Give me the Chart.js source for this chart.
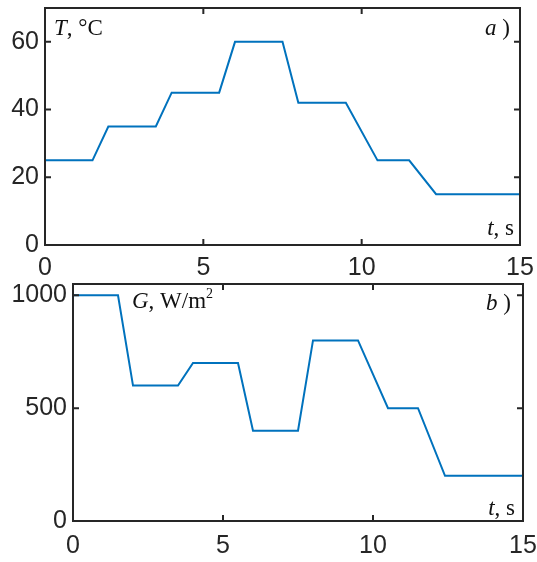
<!DOCTYPE html>
<html>
<head>
<meta charset="UTF-8">
<title>T and G vs t</title>
<script src="https://cdn.jsdelivr.net/npm/chart.js@4.4.1/dist/chart.umd.min.js"></script>
<style>
  body { margin: 0; background: #fff; }
  #wrap { position: relative; width: 537px; height: 562px; }
  .box { position: absolute; left: 0; width: 537px; }
</style>
</head>
<body>
<div id="wrap">
  <div class="box" style="top:0;height:280px"><canvas id="chartT"></canvas></div>
  <div class="box" style="top:275px;height:287px"><canvas id="chartG"></canvas></div>
</div>
<script>
// a) temperature, °C
const timeT = [0, 1.5, 2, 3.5, 4, 5.5, 6, 7.5, 8, 9.5, 10.5, 11.5, 12.35, 15];
const tempT = [25, 25, 35, 35, 45, 45, 60, 60, 42, 42, 25, 25, 15, 15];
// b) irradiance, W/m2
const timeG = [0, 1.5, 2, 3.5, 4, 5.5, 6, 7.5, 8, 9.5, 10.5, 11.5, 12.4, 15];
const irrG = [1000, 1000, 600, 600, 700, 700, 400, 400, 800, 800, 500, 500, 200, 200];

const xTicks = [0, 5, 10, 15];
const yTicksT = [0, 20, 40, 60];
const yTicksG = [0, 500, 1000];

const axisColor = '#262626';
const lineColor = '#0072BD';

function toPoints(xs, ys) {
  return xs.map((x, i) => ({ x: x, y: ys[i] }));
}

// frame + inward ticks on all four sides, plus text labels
function framePlugin(labels) {
  return {
    id: 'frame',
    afterDraw(chart) {
      const ctx = chart.ctx;
      const a = chart.chartArea;
      const xs = chart.scales.x, ys = chart.scales.y;
      const len = 6;
      ctx.save();
      ctx.strokeStyle = axisColor;
      ctx.lineWidth = 2;
      ctx.beginPath();
      xs.ticks.forEach(t => {
        const px = xs.getPixelForValue(t.value);
        ctx.moveTo(px, a.bottom); ctx.lineTo(px, a.bottom - len);
        ctx.moveTo(px, a.top); ctx.lineTo(px, a.top + len);
      });
      ys.ticks.forEach(t => {
        const py = ys.getPixelForValue(t.value);
        ctx.moveTo(a.left, py); ctx.lineTo(a.left + len, py);
        ctx.moveTo(a.right, py); ctx.lineTo(a.right - len, py);
      });
      ctx.stroke();
      ctx.strokeRect(a.left, a.top, a.right - a.left, a.bottom - a.top);

      ctx.fillStyle = '#111';
      ctx.textBaseline = 'alphabetic';
      labels.forEach(l => {
        let x = l.x < 0 ? a.right + l.x : a.left + l.x;
        const y = l.y < 0 ? a.bottom + l.y : a.top + l.y;
        if (l.align === 'right') {
          let w = 0;
          l.parts.forEach(p => { ctx.font = p.font; w += ctx.measureText(p.text).width; });
          x -= w;
        }
        l.parts.forEach(p => {
          ctx.font = p.font;
          ctx.fillText(p.text, x, y + (p.dy || 0));
          x += ctx.measureText(p.text).width;
        });
      });
      ctx.restore();
    }
  };
}

const serif = '23px "Liberation Serif", "Times New Roman", serif';
const serifIt = 'italic 23px "Liberation Serif", "Times New Roman", serif';
const serifSup = '14px "Liberation Serif", "Times New Roman", serif';
const tickFont = { family: '"Liberation Sans", Arial, sans-serif', size: 25 };

function makeChart(id, pts, yMax, yTicks, pad, xHeight, xPad, labels) {
  return new Chart(document.getElementById(id), {
    type: 'line',
    data: {
      datasets: [{
        data: pts,
        borderColor: lineColor,
        borderWidth: 2,
        pointRadius: 0,
        tension: 0,
        fill: false
      }]
    },
    options: {
      responsive: true,
      maintainAspectRatio: false,
      animation: false,
      layout: { padding: pad },
      plugins: { legend: { display: false }, tooltip: { enabled: false } },
      scales: {
        x: {
          type: 'linear', min: 0, max: 15,
          afterBuildTicks: s => { s.ticks = xTicks.map(v => ({ value: v })); },
          afterFit: s => { s.height = xHeight; s.paddingLeft = 0; s.paddingRight = 0; },
          grid: { display: false, drawTicks: false },
          border: { display: false },
          ticks: { color: axisColor, padding: xPad, maxRotation: 0, font: tickFont,
                   callback: v => String(v) }
        },
        y: {
          min: 0, max: yMax,
          afterBuildTicks: s => { s.ticks = yTicks.map(v => ({ value: v })); },
          afterFit: s => { s.width = pad.yw; s.paddingTop = 0; s.paddingBottom = 0; },
          grid: { display: false, drawTicks: false },
          border: { display: false },
          ticks: { color: axisColor, padding: 6, font: tickFont,
                   callback: v => String(v) }
        }
      }
    },
    plugins: [framePlugin(labels)]
  });
}

makeChart('chartT', toPoints(timeT, tempT), 70, yTicksT,
  { left: 0, right: 17, top: 8, bottom: 0, yw: 45 }, 35, 8,
  [
    { x: 9, y: 27, parts: [{ text: 'T', font: serifIt }, { text: ', \u00B0C', font: serif }] },
    { x: -10, y: 27, align: 'right', parts: [{ text: 'a', font: serifIt }, { text: ' )', font: serif }] },
    { x: -6, y: -10, align: 'right', parts: [{ text: 't', font: serifIt }, { text: ', s', font: serif }] }
  ]);

makeChart('chartG', toPoints(timeG, irrG), 1050, yTicksG,
  { left: 0, right: 14, top: 9, bottom: 0, yw: 73 }, 41, 10,
  [
    { x: 59, y: 24, parts: [{ text: 'G', font: serifIt }, { text: ', W/m', font: serif }, { text: '2', font: serifSup, dy: -10 }] },
    { x: -12, y: 26, align: 'right', parts: [{ text: 'b', font: serifIt }, { text: ' )', font: serif }] },
    { x: -8, y: -6, align: 'right', parts: [{ text: 't', font: serifIt }, { text: ', s', font: serif }] }
  ]);
</script>
</body>
</html>
